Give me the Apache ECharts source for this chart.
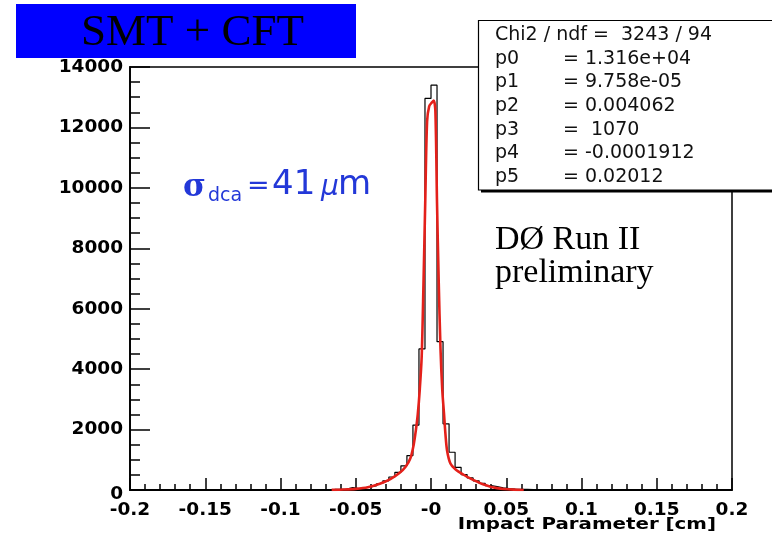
<!DOCTYPE html>
<html>
<head>
<meta charset="utf-8">
<script src="https://cdn.jsdelivr.net/npm/echarts@6/dist/echarts.min.js"></script>
<style>
  html, body { margin: 0; padding: 0; background: #ffffff; }
  #chart { width: 772px; height: 540px; }
</style>
</head>
<body>
<div id="chart"></div>
<script>
// Impact parameter histogram: 100 bins from -0.2 to 0.2 cm
const binLow = -0.2;
const binHigh = 0.2;
const counts = [
  0, 0, 0, 0, 0, 0, 0, 0, 0, 0,
  0, 0, 0, 0, 0, 0, 0, 0, 0, 0,
  0, 0, 0, 0, 0, 0, 0, 0, 0, 2,
  4, 6, 12, 18, 25, 32, 80, 50, 68, 105,
  145, 215, 305, 430, 585, 800, 1140, 2150, 4670, 12960,
  13400, 4910, 2190, 1250, 750, 510, 400, 305, 220, 148,
  110, 68, 45, 33, 24, 20, 14, 10, 7, 4,
  3, 2, 0, 0, 0, 0, 0, 0, 0, 0,
  0, 0, 0, 0, 0, 0, 0, 0, 0, 0,
  0, 0, 0, 0, 0, 0, 0, 0, 0, 0
];

// Fitted double-Gaussian curve, sampled points (cm, entries)
const fitX = [
  -0.066, -0.058, -0.050, -0.042, -0.034, -0.027, -0.021, -0.017, -0.0137, -0.0115,
  -0.0100, -0.0088, -0.0075, -0.0062, -0.0050, -0.0038, -0.0026, -0.0012, 0.0005, 0.0018,
  0.0029, 0.0040, 0.0051, 0.0063, 0.0075, 0.0086, 0.0096, 0.0107, 0.0129, 0.0162,
  0.0217, 0.0260, 0.0306, 0.0350, 0.0395, 0.0440, 0.0483, 0.0550, 0.0616
];
const fitY = [
  3, 15, 38, 90, 205, 360, 560, 760, 1050, 1500,
  2000, 2500, 3300, 4400, 6800, 9600, 12200, 12700, 12820, 12890,
  12550, 9500, 6950, 4700, 3300, 2550, 1850, 1300, 880, 690,
  505, 385, 275, 180, 110, 62, 33, 12, 2
];

// Axis tick labels
const xTickLabels = ['-0.2', '-0.15', '-0.1', '-0.05', '-0', '0.05', '0.1', '0.15', '0.2'];
const yTickLabels = ['0', '2000', '4000', '6000', '8000', '10000', '12000', '14000'];
const xAxisTitle = 'Impact Parameter [cm]';

// Fit statistics box
const chiLine = 'Chi2 / ndf =  3243 / 94';
const statNames = ['p0', 'p1', 'p2', 'p3', 'p4', 'p5'];
const statValues = ['= 1.316e+04', '= 9.758e-05', '= 0.004062', '=  1070', '= -0.0001912', '= 0.02012'];

const titleText = 'SMT + CFT';
const expLines = ['D\u00D8 Run II', 'preliminary'];

const xMin = -0.2, xMax = 0.2, xStep = 0.05;
const yMin = 0, yMax = 14000, yStep = 2000;

// Step outline: one point per bin lower edge, plus the final upper edge
const binWidth = (binHigh - binLow) / counts.length;
const histData = counts.map((c, i) => [binLow + i * binWidth, c]);
histData.push([binHigh, counts[counts.length - 1]]);
const fitData = fitX.map((x, i) => [x, fitY[i]]);

const blueText = '#2338d8';
const sans = "'DejaVu Sans', 'Liberation Sans', sans-serif";
const serif = "'Liberation Serif', 'DejaVu Serif', serif";

const graphics = [];
// Title banner
graphics.push({ type: 'rect', shape: { x: 16, y: 4, width: 340, height: 54 }, style: { fill: '#0000ff' }, z: 100 });
graphics.push({ type: 'text', x: 192.5, y: 32.7, style: { text: titleText, font: '45px ' + serif, fill: '#000', align: 'center', verticalAlign: 'middle' }, z: 101 });

// Resolution label
graphics.push({ type: 'text', x: 183, y: 187.5, style: { text: '\u03C3', font: "bold 31px 'DejaVu Serif', serif", fill: blueText, align: 'left', verticalAlign: 'middle' }, z: 101 });
graphics.push({ type: 'text', x: 208, y: 196.5, style: { text: 'dca', font: '19px ' + sans, fill: blueText, align: 'left', verticalAlign: 'middle' }, z: 101 });
graphics.push({ type: 'text', x: 247, y: 186.5, style: { text: '=', font: '27px ' + sans, fill: blueText, align: 'left', verticalAlign: 'middle' }, z: 101 });
graphics.push({ type: 'text', x: 272, y: 185.4, style: { text: '41', font: '34px ' + sans, fill: blueText, align: 'left', verticalAlign: 'middle' }, z: 101 });
graphics.push({ type: 'text', x: 321, y: 187.3, style: { text: '\u03BC', font: 'italic 28px ' + sans, fill: blueText, align: 'left', verticalAlign: 'middle' }, z: 101 });
graphics.push({ type: 'text', x: 338, y: 185.4, style: { text: 'm', font: '34px ' + sans, fill: blueText, align: 'left', verticalAlign: 'middle' }, z: 101 });

// Experiment label
expLines.forEach((t, i) => {
  graphics.push({ type: 'text', x: 495, y: 240.5 + i * 33, style: { text: t, font: '34px ' + serif, fill: '#000', align: 'left', verticalAlign: 'middle' }, z: 101 });
});

// Stats box with drop shadow
graphics.push({ type: 'rect', shape: { x: 481, y: 23, width: 330, height: 169.5 }, style: { fill: '#000' }, z: 100 });
graphics.push({ type: 'rect', shape: { x: 478.5, y: 20.5, width: 330, height: 169.5 }, style: { fill: '#fff', stroke: '#000', lineWidth: 1.2 }, z: 101 });
const rowBase = 42, rowStep = 23.55, statFont = '19px ' + sans;
graphics.push({ type: 'text', x: 495, y: rowBase - 6.6, style: { text: chiLine, font: statFont, fill: '#111', align: 'left', verticalAlign: 'middle' }, z: 102 });
statNames.forEach((n, i) => {
  const y = rowBase + (i + 1) * rowStep - 6.6;
  graphics.push({ type: 'text', x: 495, y: y, style: { text: n, font: statFont, fill: '#111', align: 'left', verticalAlign: 'middle' }, z: 102 });
  graphics.push({ type: 'text', x: 563, y: y, style: { text: statValues[i], font: statFont, fill: '#111', align: 'left', verticalAlign: 'middle' }, z: 102 });
});

// Axis title
graphics.push({ type: 'text', x: 716, y: 525, scaleX: 1.2, style: { text: xAxisTitle, font: 'bold 16.5px ' + sans, fill: '#000', align: 'right', verticalAlign: 'middle' }, z: 101 });

const labelFont = { color: '#000', fontFamily: sans, fontWeight: 'bold', fontSize: 18.5 };

const chart = echarts.init(document.getElementById('chart'), null, { renderer: 'canvas' });
chart.setOption({
  animation: false,
  backgroundColor: '#ffffff',
  grid: {
    left: 130, right: 40, top: 67, bottom: 50,
    show: true, borderColor: '#000', borderWidth: 1.5, backgroundColor: 'transparent',
    outerBoundsMode: 'none'
  },
  xAxis: {
    type: 'value', min: xMin, max: xMax, interval: xStep,
    axisLine: { show: true, onZero: false, lineStyle: { color: '#000', width: 1.8 } },
    axisTick: { show: true, inside: true, length: 12, lineStyle: { color: '#000', width: 1.5 } },
    minorTick: { show: true, splitNumber: 5, length: 6, lineStyle: { color: '#000', width: 1.5 } },
    splitLine: { show: false }, minorSplitLine: { show: false },
    axisLabel: Object.assign({
      margin: 11,
      formatter: v => xTickLabels[Math.round((v - xMin) / xStep)]
    }, labelFont)
  },
  yAxis: {
    type: 'value', min: yMin, max: yMax, interval: yStep,
    axisLine: { show: true, onZero: false, lineStyle: { color: '#000', width: 1.8 } },
    axisTick: { show: true, inside: true, length: 20, lineStyle: { color: '#000', width: 1.5 } },
    minorTick: { show: true, splitNumber: 4, length: 10, lineStyle: { color: '#000', width: 1.5 } },
    splitLine: { show: false }, minorSplitLine: { show: false },
    axisLabel: Object.assign({
      margin: 7,
      formatter: v => {
        const t = yTickLabels[Math.round((v - yMin) / yStep)];
        return v === yMin ? '{low|' + t + '}' : t;
      },
      rich: { low: Object.assign({ padding: [9, 0, 0, 0] }, labelFont) }
    }, labelFont)
  },
  series: [
    {
      name: 'entries', type: 'line', data: histData, step: 'end',
      showSymbol: false, silent: true, z: 2,
      lineStyle: { color: '#000', width: 1.2 }
    },
    {
      name: 'fit', type: 'line', data: fitData, smooth: 0.3,
      showSymbol: false, silent: true, z: 3,
      lineStyle: { color: '#e4201a', width: 2.6 }
    }
  ],
  graphic: graphics
});
</script>
</body>
</html>
